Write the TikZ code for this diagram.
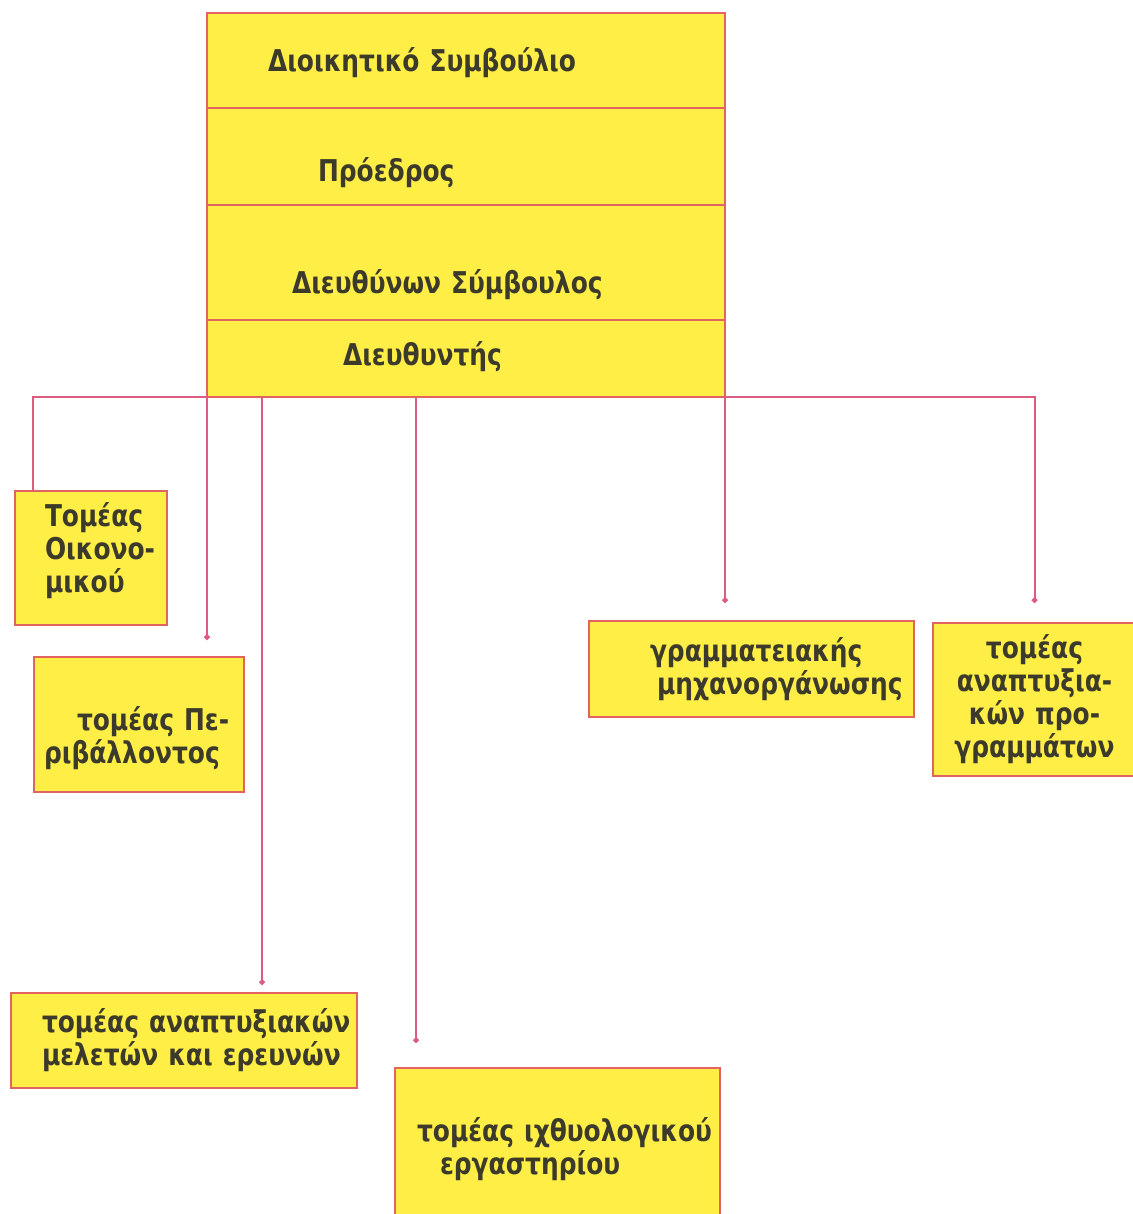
\documentclass[tikz,border=0pt]{standalone}
\usepackage{fontspec}
\newfontfamily\boxfont{DejaVu Sans}[FakeStretch=0.83]
\usetikzlibrary{positioning, arrows.meta}
\definecolor{boxfill}{RGB}{255,238,70}
\definecolor{boxline}{RGB}{226,100,96}
\definecolor{linkline}{RGB}{218,92,126}
\definecolor{boxtext}{RGB}{60,58,42}

\tikzset{
  unit/.style={rectangle, draw=boxline, fill=boxfill, line width=1.3pt, outer sep=0pt, inner xsep=0pt, inner ysep=2pt, align=left, text=boxtext, font=\boxfont\bfseries\fontsize{15}{16.5}\selectfont},
  link/.style={draw=linkline, line width=1pt},
  linkend/.style={link, -{Circle[length=2.8pt]}},
}

\begin{document}
\begin{tikzpicture}[x=0.5pt, y=-0.5pt]
\useasboundingbox (0,0) rectangle (1132,1214);

%%% MANAGEMENT
\node [unit, anchor=north west, text width=259pt, minimum height=47.5pt, text height=11.5pt, text depth=0pt] (board) at (207,13) {\hspace*{30.5pt}Διοικητικό Συμβούλιο};
\node [unit, anchor=north, text width=259pt, minimum height=48.5pt, text height=25.5pt, text depth=0pt] (chair) at (board.south) {\hspace*{55.5pt}Πρόεδρος};
\node [unit, anchor=north, text width=259pt, minimum height=57.5pt, text height=30.5pt, text depth=0pt] (ceo) at (chair.south) {\hspace*{42.5pt}Διευθύνων Σύμβουλος};
\node [unit, anchor=north, text width=259pt, minimum height=38.5pt, text height=6.5pt, text depth=0pt] (dir) at (ceo.south) {\hspace*{68pt}Διευθυντής};

%%% LEFT SECTORS
\node [unit, anchor=north west, text width=76pt, minimum height=67pt] (econ) at (15,491) {\hspace*{15pt}Τομέας\\ \hspace*{15pt}Οικονο-\\ \hspace*{15pt}μικού\rule[-11pt]{0pt}{1pt}};
\node [unit, anchor=north west, text width=105pt, minimum height=67.5pt] (env) at (34,657) {\rule{0pt}{26pt}\hspace*{21.5pt}τομέας Πε-\\ \hspace*{5pt}ριβάλλοντος};
\node [unit, anchor=north west, text width=173pt, minimum height=47.5pt] (res) at (11,993) {\hspace*{15.5pt}\mbox{τομέας αναπτυξιακών}\\ \hspace*{15.5pt}\mbox{μελετών και ερευνών}};
\node [unit, anchor=north west, text width=162.5pt, minimum height=81pt] (fish) at (395,1068) {\hspace*{11pt}\mbox{τομέας ιχθυολογικού}\\ \hspace*{22.5pt}εργαστηρίου};

%%% RIGHT SECTORS
\node [unit, anchor=north west, text width=162.5pt, minimum height=48pt] (sec) at (589,621) {\hspace*{30.5pt}γραμματειακής\\ \hspace*{34pt}μηχανοργάνωσης};
\node [unit, anchor=north west, text width=101.5pt, minimum height=76.5pt, align=center] (dev) at (933,623) {τομέας\\ αναπτυξια-\\ κών προ-\\ γραμμάτων};

%%% connections
\draw [link] (dir.south west) -| ([xshift=9pt]econ.north west);
\draw [linkend, shorten >=8.5pt] (dir.south west) -- (dir.south west |- env.north);
\draw [linkend, shorten >=4pt] ([xshift=27.5pt]dir.south west) -- ([xshift=27.5pt]dir.south west |- res.north);
\draw [linkend, shorten >=12.5pt] ([xshift=104.5pt]dir.south west) -- ([xshift=104.5pt]dir.south west |- fish.north);
\draw [linkend, shorten >=9pt] (dir.south east) -- (dir.south east |- sec.north);
\draw [linkend, shorten >=10pt] (dir.south east) -| (dev.north);

\end{tikzpicture}
\end{document}
